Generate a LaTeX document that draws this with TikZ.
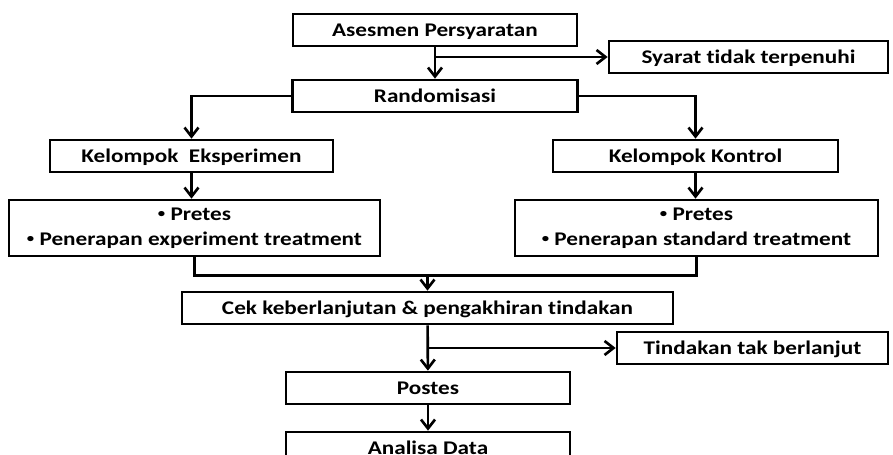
\documentclass[tikz,border=0pt]{standalone}
\usepackage{fontspec}
\setmainfont{Carlito}[FakeStretch=1.2,Ligatures={NoCommon,NoContextual,NoRare}]
\usetikzlibrary{arrows.meta}
\newcommand{\bul}{\raisebox{0.25ex}{\fontsize{7}{7}\selectfont•}}

\begin{document}
\begin{tikzpicture}[>={Straight Barb[length=1.8mm,width=2.8mm]},line width=1.5pt,
  box/.style={draw,inner sep=0pt,minimum height=0.64cm,align=center,
    text height=7.1pt,text depth=0pt,font=\fontsize{11}{14.2}\selectfont\bfseries},
  box2/.style={box,minimum height=1.12cm,text height=,text depth=}]
\clip (0,0) rectangle (17.86,9.10);
% ---------- assessment & randomisation ----------
\node[box,minimum width=5.68cm] (ases) at (8.70,8.50) {Asesmen Persyaratan};
\node[box,minimum width=5.58cm] (syarat) at (14.97,7.96) {Syarat t{}idak terpenuhi};
\node[box,minimum width=5.70cm] (rand) at (8.70,7.18) {Randomisasi};
\draw[->] (ases) -- (rand);
\draw[->] (ases.south |- syarat) -- (syarat);
% ---------- the two groups ----------
\node[box,minimum width=5.66cm] (eksp) at (3.83,5.98) {Kelompok~~Eksperimen};
\node[box,minimum width=5.70cm] (kontrol) at (13.91,5.98) {Kelompok Kontrol};
\draw[->] (rand.west) -| (eksp.north);
\draw[->] (rand.east) -| (kontrol.north);
\node[box2,minimum width=7.42cm] (pretE) at (3.89,4.54)
  {\bul{} Pretes\\\bul{} Penerapan experiment treatment};
\node[box2,minimum width=7.26cm] (pretK) at (13.93,4.54)
  {\bul{} Pretes\\\bul{} Penerapan standard treatment};
\draw[->] (eksp) -- (eksp |- pretE.north);
\draw[->] (kontrol) -- (kontrol |- pretK.north);
% ---------- check, posttest, analysis ----------
\node[box,minimum width=9.82cm] (cek) at (8.55,2.94) {Cek keberlanjutan \& pengakhiran t{}indakan};
\node[box,minimum width=5.42cm] (tindak) at (15.05,2.14) {Tindakan tak berlanjut};
\node[box,minimum width=5.68cm] (postes) at (8.56,1.34) {Postes};
\node[box,minimum width=5.68cm] (analisa) at (8.56,0.14) {Analisa Data};
\draw (pretE.south) -- ++(0,-0.36) coordinate (gabung) -| (pretK.south);
\draw[->] (gabung -| cek.north) -- (cek.north);
\draw[->] (cek) -- (postes);
\draw[->] (cek.south |- tindak) -- (tindak);
\draw[->] (postes) -- (analisa);
\end{tikzpicture}
\end{document}
